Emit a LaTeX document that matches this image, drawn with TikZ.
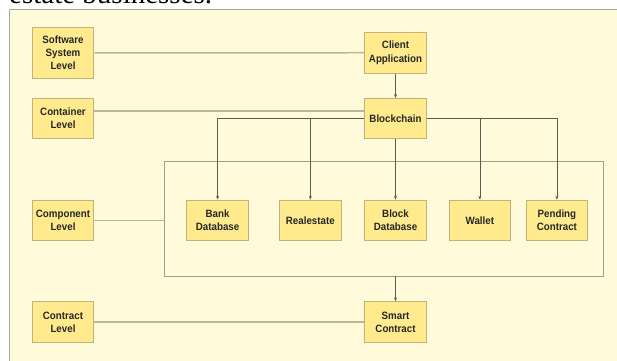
\documentclass[tikz,border=0pt]{standalone}
\usepackage{fontspec}
\setmainfont{Liberation Serif}
\newfontfamily\boxfont[FakeStretch=0.92]{Liberation Sans}
\usetikzlibrary{arrows.meta}
\definecolor{panelfill}{HTML}{FFFBDA}
\definecolor{panelline}{HTML}{A8A8A0}
\definecolor{boxfill}{HTML}{FFEB8E}
\definecolor{boxline}{HTML}{C2B27C}
\definecolor{levelline}{HTML}{BDB49C}
\definecolor{arrowline}{HTML}{5E5A52}
\definecolor{groupline}{HTML}{A39C8C}
\begin{document}
\begin{tikzpicture}[x=1pt, y=-1pt,
	main/.style = {draw=boxline, line width=1pt, fill=boxfill, minimum width=61.5pt, inner sep=1pt,
		align=center, font=\boxfont\fontsize{10.6}{13.2}\selectfont\bfseries, text=black!85},
	level/.style = {draw=levelline, line width=1.5pt},
	link/.style = {draw=arrowline, line width=0.7pt, -{Stealth[length=4pt, width=3pt]}}]
	\useasboundingbox (0,0) rectangle (617,360);
	\clip (0,0) rectangle (617,360);
	\node[anchor=base west, inner sep=0pt, font=\fontsize{29}{30}\selectfont] (caption) at (9,3.5) {estate businesses.};
	\draw[draw=panelline, fill=panelfill, line width=0.8pt] (9.4,9.3) rectangle (630,370);
	% levels
	\node[main, minimum height=51.5pt] (sw) at (63,53) {Software\\System\\Level};
	\node[main, minimum height=39.6pt] (cont) at (63,118.5) {Container\\Level};
	\node[main, minimum height=40.5pt] (comp) at (63,220.5) {Component\\Level};
	\node[main, minimum height=40.3pt] (clev) at (63,322) {Contract\\Level};
	% elements
	\node[main, minimum height=41pt] (client) at (395.5,52.7) {Client\\Application};
	\node[main, minimum height=39.6pt] (chain) at (395.5,118.5) {Blockchain};
	\node[draw=groupline, line width=0.9pt, minimum width=439.3pt, minimum height=114.3pt, inner sep=0pt] (group) at (383.7,218.85) {};
	\node[main, minimum height=40.5pt] (bank) at (217.6,220.5) {Bank\\Database};
	\node[main, minimum height=40.5pt] (real) at (310.3,220.5) {Realestate};
	\node[main, minimum height=40.5pt] (blockdb) at (395.5,220.5) {Block\\Database};
	\node[main, minimum height=40.5pt] (wallet) at (479.9,220.5) {Wallet};
	\node[main, minimum height=40.5pt] (pend) at (556.9,220.5) {Pending\\Contract};
	\node[main, minimum height=40.3pt] (smart) at (395.5,322) {Smart\\Contract};
	% level lines
	\draw[level] (sw) -- (client);
	\draw[level] ([yshift=7.5pt]cont.east) -- ([yshift=7.5pt]chain.west);
	\draw[level] (comp) -- (comp -| group.west);
	\draw[level] (clev) -- (smart);
	% arrows
	\draw[link] (client) -- (chain);
	\draw[link] (chain.west) -| (bank.north);
	\draw[link] (chain.west -| real.north) -- (real.north);
	\draw[link] (chain) -- (blockdb);
	\draw[link] (chain.east) -| (pend.north);
	\draw[link] (chain.east -| wallet.north) -- (wallet.north);
	\draw[link] (group.south -| smart.north) -- (smart);
\end{tikzpicture}
\end{document}
